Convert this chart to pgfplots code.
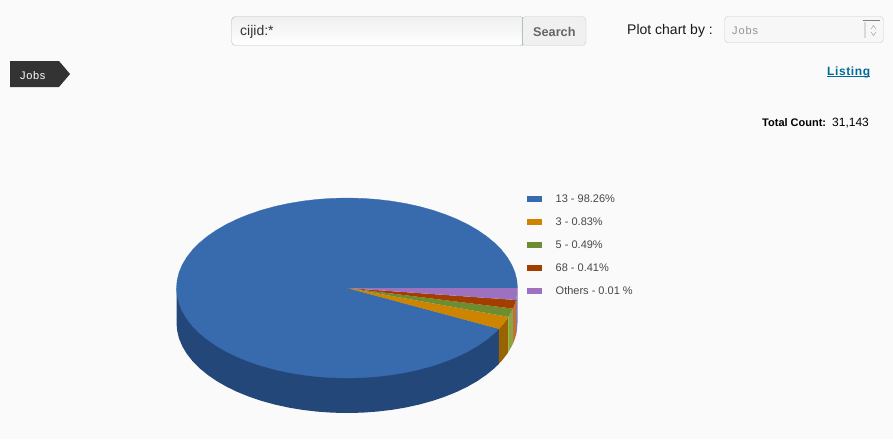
\documentclass[border=0pt]{standalone}
\usepackage{pgfplots}
\pgfplotsset{compat=1.18}
\usepackage{fontspec}
\setmainfont{Liberation Sans}
\definecolor{pgbg}{HTML}{FAFAFA}
\definecolor{cblue}{HTML}{376BAE}
\definecolor{cwall}{HTML}{24477A}
\definecolor{corange}{HTML}{CF8400}
\definecolor{cgreen}{HTML}{6E8C30}
\definecolor{cbrown}{HTML}{A33E00}
\definecolor{cpurple}{HTML}{9C72C0}
\definecolor{worange}{HTML}{996300}
\definecolor{wgreen}{HTML}{8BA63C}
\definecolor{wbrown}{HTML}{C0703A}
\definecolor{wpurple}{HTML}{8A7AA0}
\definecolor{linkc}{HTML}{006A9B}
\definecolor{inputb}{HTML}{B0C2C8}
\newcommand{\fs}[1]{\fontsize{#1}{#1}\selectfont}
\begin{document}
\begin{tikzpicture}
\begin{axis}[
  width=893pt,height=439pt,scale only axis,
  xmin=0,xmax=893,ymin=0,ymax=439,y dir=reverse,
  hide axis,
  legend cell align=left,
  legend image code/.code={\fill[#1,draw=none] (0pt,-3pt) rectangle (15pt,3pt);\path[draw=none,fill=none] (0pt,0pt) -- (27pt,0pt);},
  legend style={at={(axis cs:526.7,192)},anchor=north west,draw=none,fill=none,
    font=\fs{11},text=black!72,row sep=9.05pt,inner sep=0pt,outer sep=0pt,
    nodes={inner sep=2pt,text height=8pt,text depth=2pt}},
]
\fill[pgbg] (axis cs:0,0) rectangle (axis cs:893,439);

% side walls
\addplot[fill=cwall,draw=none,forget plot] coordinates {
(498.92,328.86)(498.92,363.86)(494.66,368)(486.67,374.62)(477.61,380.85)(467.56,386.64)(456.6,391.94)(444.8,396.72)(432.25,400.94)(419.06,404.57)(405.31,407.57)(391.13,409.93)(376.61,411.63)(361.86,412.66)(347,413)(332.14,412.66)(317.39,411.63)(302.87,409.93)(288.69,407.57)(274.94,404.57)(261.75,400.94)(249.2,396.72)(237.4,391.94)(226.44,386.64)(216.39,380.85)(207.33,374.62)(199.34,368)(192.47,361.04)(186.78,353.78)(182.31,346.29)(179.09,338.63)(177.15,330.84)(176.5,323)(176.5,288)} -- cycle;
\addplot[fill=worange,draw=none,forget plot] coordinates {
(498.92,328.86)(498.92,363.86)(501.53,361.04)(507.22,353.78)(508.3,351.9)(508.3,316.9)(507.22,318.78)(501.53,326.04)} -- cycle;
\addplot[fill=wgreen,draw=none,forget plot] coordinates {
(508.3,316.9)(508.3,351.9)(511.69,346.29)(513,343.6)(513,308.6)(511.69,311.29)} -- cycle;
\addplot[fill=wbrown,draw=none,forget plot] coordinates {
(513,308.6)(513,343.6)(514.91,338.63)(516,335)(516,300)(514.91,303.63)} -- cycle;
\addplot[fill=wpurple,draw=none,forget plot] coordinates {
(516,300)(516,335)(516.85,330.84)(517.5,323)(517.5,288)(516.85,295.84)} -- cycle;

% top faces
\addplot[fill=cblue,draw=cblue,line width=0.3pt] coordinates {
(347,288)(498.92,328.86)(494.66,333)(486.67,339.62)(477.61,345.85)(467.56,351.64)(456.6,356.94)(444.8,361.72)(432.25,365.94)(419.06,369.57)(405.31,372.57)(391.13,374.93)(376.61,376.63)(361.86,377.66)(347,378)(332.14,377.66)(317.39,376.63)(302.87,374.93)(288.69,372.57)(274.94,369.57)(261.75,365.94)(249.2,361.72)(237.4,356.94)(226.44,351.64)(216.39,345.85)(207.33,339.62)(199.34,333)(192.47,326.04)(186.78,318.78)(182.31,311.29)(179.09,303.63)(177.15,295.84)(176.5,288)(177.15,280.16)(179.09,272.37)(182.31,264.71)(186.78,257.22)(192.47,249.96)(199.34,243)(207.33,236.38)(216.39,230.15)(226.44,224.36)(237.4,219.06)(249.2,214.28)(261.75,210.06)(274.94,206.43)(288.69,203.43)(302.87,201.07)(317.39,199.37)(332.14,198.34)(347,198)(361.86,198.34)(376.61,199.37)(391.13,201.07)(405.31,203.43)(419.06,206.43)(432.25,210.06)(444.8,214.28)(456.6,219.06)(467.56,224.36)(477.61,230.15)(486.67,236.38)(494.66,243)(501.53,249.96)(507.22,257.22)(511.69,264.71)(514.91,272.37)(516.85,280.16)(517.5,288)} -- cycle;
\addlegendentry{13 - 98.26\%}
\addplot[fill=corange,draw=none] coordinates {
(347,288)(508.3,316.9)(507.22,318.78)(501.53,326.04)(498.92,328.86)} -- cycle;
\addlegendentry{3 - 0.83\%}
\addplot[fill=cgreen,draw=none] coordinates {
(347,288)(513,308.6)(511.69,311.29)(508.3,316.9)} -- cycle;
\addlegendentry{5 - 0.49\%}
\addplot[fill=cbrown,draw=none] coordinates {
(347,288)(516,300)(514.91,303.63)(513,308.6)} -- cycle;
\addlegendentry{68 - 0.41\%}
\addplot[fill=cpurple,draw=none] coordinates {
(347,288)(517.5,288)(516.85,295.84)(516,300)} -- cycle;
\addlegendentry{Others - 0.01 \%}

% page furniture
\draw[rounded corners=4pt,draw=inputb,top color=black!6,bottom color=white,middle color=white!97!black]
  (axis cs:231.5,16.5) rectangle (axis cs:524,45.5);
\draw[rounded corners=4pt,draw=black!20,fill=black!6]
  (axis cs:522,16.5) rectangle (axis cs:586,45.5);
\draw[draw=inputb] (axis cs:522,16.5) -- (axis cs:522,45.5);
\node[anchor=base west,inner sep=0pt,font=\fs{14},text=black!80] at (axis cs:240,35) {cijid:*};
\node[anchor=base west,inner sep=0pt,font=\fs{12.7}\bfseries,text=black!60] at (axis cs:533,36) {Search};
\node[anchor=base west,inner sep=0pt,font=\fs{14},text=black!90] at (axis cs:627,34) {Plot chart by :};
\draw[rounded corners=3.5pt,draw=black!20,fill=black!3] (axis cs:724.5,16.5) rectangle (axis cs:883.5,42.5);
\node[anchor=base west,inner sep=0pt,font=\fs{11}\addfontfeature{LetterSpace=8},text=black!42] at (axis cs:732,34) {Jobs};
\draw[black!50] (axis cs:863,20.5) -- (axis cs:880,20.5);
\draw[black!15,line width=1.2pt] (axis cs:865,22) -- (axis cs:865,38);
\draw[black!40,line width=0.4pt] (axis cs:871,29) -- (axis cs:873.5,25.5) -- (axis cs:876,29);
\draw[black!40,line width=0.4pt] (axis cs:871,32) -- (axis cs:873.5,35.5) -- (axis cs:876,32);
\fill[black!80] (axis cs:10,61) -- (axis cs:59,61) -- (axis cs:70,74) -- (axis cs:59,87) -- (axis cs:10,87) -- cycle;
\node[anchor=base west,inner sep=0pt,font=\fs{11}\addfontfeature{LetterSpace=6},text=white] at (axis cs:20,79) {Jobs};
\node[anchor=base west,inner sep=0pt,font=\fs{12}\bfseries\addfontfeature{LetterSpace=5},text=linkc] at (axis cs:827,75) {Listing};
\draw[linkc,line width=1pt] (axis cs:827,76.5) -- (axis cs:870,76.5);
\node[anchor=base west,inner sep=0pt,font=\fs{11}\bfseries,text=black] at (axis cs:762,126) {Total Count:};
\node[anchor=base west,inner sep=0pt,font=\fs{12},text=black] at (axis cs:832,126) {31,143};
\end{axis}
\end{tikzpicture}
\end{document}
